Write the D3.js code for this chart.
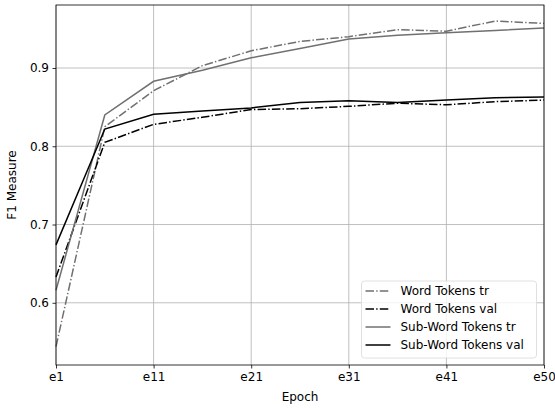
<!DOCTYPE html>
<html>
<head>
<meta charset="utf-8">
<script src="https://cdn.jsdelivr.net/npm/d3@7"></script>
<style>
  html, body { margin: 0; padding: 0; background: #fff; overflow: hidden; }
  svg { display: block; font-family: "DejaVu Sans", sans-serif; }
</style>
</head>
<body>
<div id="chart"></div>
<script>
// epochs are sampled every 5 steps, ticks labelled as in the source
const epochs = [0, 5, 10, 15, 20, 25, 30, 35, 40, 45, 50];
const xTickValues = [0, 10, 20, 30, 40, 50];
const xTickLabels = ['e1', 'e11', 'e21', 'e31', 'e41', 'e50'];
const yTickValues = [0.6, 0.7, 0.8, 0.9];

const wordTr = [0.544, 0.825, 0.871, 0.903, 0.922, 0.934, 0.940, 0.949, 0.947, 0.960, 0.957];
const wordVal = [0.633, 0.805, 0.828, 0.837, 0.847, 0.848, 0.851, 0.855, 0.853, 0.857, 0.859];
const subTr = [0.616, 0.840, 0.883, 0.897, 0.913, 0.925, 0.937, 0.942, 0.945, 0.948, 0.951];
const subVal = [0.674, 0.822, 0.841, 0.845, 0.849, 0.856, 0.858, 0.856, 0.859, 0.862, 0.863];

const seriesNames = ['Word Tokens tr', 'Word Tokens val', 'Sub-Word Tokens tr', 'Sub-Word Tokens val'];

const width = 555;
const height = 410;
const margin = { top: 5, right: 11, bottom: 45, left: 56 };
const innerWidth = width - margin.left - margin.right;
const innerHeight = height - margin.top - margin.bottom;

const grey = '#707070';
const dashdot = '8.5,2.2,1.4,2.2';

const series = [
  { name: seriesNames[0], values: wordTr, color: grey, dash: dashdot },
  { name: seriesNames[1], values: wordVal, color: '#000', dash: dashdot },
  { name: seriesNames[2], values: subTr, color: grey, dash: null },
  { name: seriesNames[3], values: subVal, color: '#000', dash: null },
];

const svg = d3.select('#chart')
  .append('svg')
  .attr('width', width)
  .attr('height', height)
  .append('g')
  .attr('transform', `translate(${margin.left}, ${margin.top})`);

const scaleX = d3.scaleLinear()
  .domain([0, 50])
  .range([0, innerWidth]);

const scaleY = d3.scaleLinear()
  .domain([0.5205, 0.9805])
  .range([innerHeight, 0]);

// grid
svg.append('g')
  .selectAll('line')
  .data(xTickValues)
  .join('line')
  .attr('x1', d => scaleX(d))
  .attr('x2', d => scaleX(d))
  .attr('y1', 0)
  .attr('y2', innerHeight)
  .attr('stroke', '#b0b0b0')
  .attr('stroke-width', 0.8);

svg.append('g')
  .selectAll('line')
  .data(yTickValues)
  .join('line')
  .attr('x1', 0)
  .attr('x2', innerWidth)
  .attr('y1', d => scaleY(d))
  .attr('y2', d => scaleY(d))
  .attr('stroke', '#b0b0b0')
  .attr('stroke-width', 0.8);

const line = d3.line()
  .x((d, i) => scaleX(epochs[i]))
  .y(d => scaleY(d));

svg.append('g')
  .selectAll('path')
  .data(series)
  .join('path')
  .attr('d', d => line(d.values))
  .attr('fill', 'none')
  .attr('stroke', d => d.color)
  .attr('stroke-width', 1.5)
  .attr('stroke-dasharray', d => d.dash);

// axes
const xAxis = d3.axisBottom(scaleX)
  .tickValues(xTickValues)
  .tickFormat((d, i) => xTickLabels[i])
  .tickSize(3.5)
  .tickPadding(3.5);

const yAxis = d3.axisLeft(scaleY)
  .tickValues(yTickValues)
  .tickFormat(d3.format('.1f'))
  .tickSize(3.5)
  .tickPadding(3.5);

const gx = svg.append('g')
  .attr('transform', `translate(0, ${innerHeight})`)
  .call(xAxis);

const gy = svg.append('g')
  .call(yAxis);

[gx, gy].forEach(g => {
  g.attr('font-size', 12).attr('font-family', 'DejaVu Sans');
  g.select('.domain').remove();
  g.selectAll('text').attr('fill', '#000');
  g.selectAll('line').attr('stroke', '#000').attr('stroke-width', 0.8);
});

svg.append('rect')
  .attr('width', innerWidth)
  .attr('height', innerHeight)
  .attr('fill', 'none')
  .attr('stroke', '#000')
  .attr('stroke-width', 0.8);

svg.append('text')
  .attr('x', innerWidth / 2)
  .attr('y', innerHeight + 36)
  .attr('text-anchor', 'middle')
  .attr('font-size', 12)
  .text('Epoch');

svg.append('text')
  .attr('transform', `translate(${-40}, ${innerHeight / 2}) rotate(-90)`)
  .attr('text-anchor', 'middle')
  .attr('font-size', 12)
  .text('F1 Measure');

// legend
const legend = svg.append('g')
  .attr('transform', `translate(${361.5 - margin.left}, ${281 - margin.top})`);

legend.append('rect')
  .attr('width', 175)
  .attr('height', 77)
  .attr('rx', 3)
  .attr('fill', 'rgba(255,255,255,0.8)')
  .attr('stroke', '#d8d8d8')
  .attr('stroke-width', 0.8);

const items = legend.selectAll('g.item')
  .data(series)
  .join('g')
  .attr('class', 'item')
  .attr('transform', (d, i) => `translate(0, ${10 + i * 18})`);

items.append('line')
  .attr('x1', 4)
  .attr('x2', 29)
  .attr('stroke', d => d.color)
  .attr('stroke-width', 1.5)
  .attr('stroke-dasharray', d => d.dash);

items.append('text')
  .attr('x', 39)
  .attr('dy', '0.35em')
  .attr('font-size', 12)
  .text(d => d.name);
</script>
</body>
</html>
